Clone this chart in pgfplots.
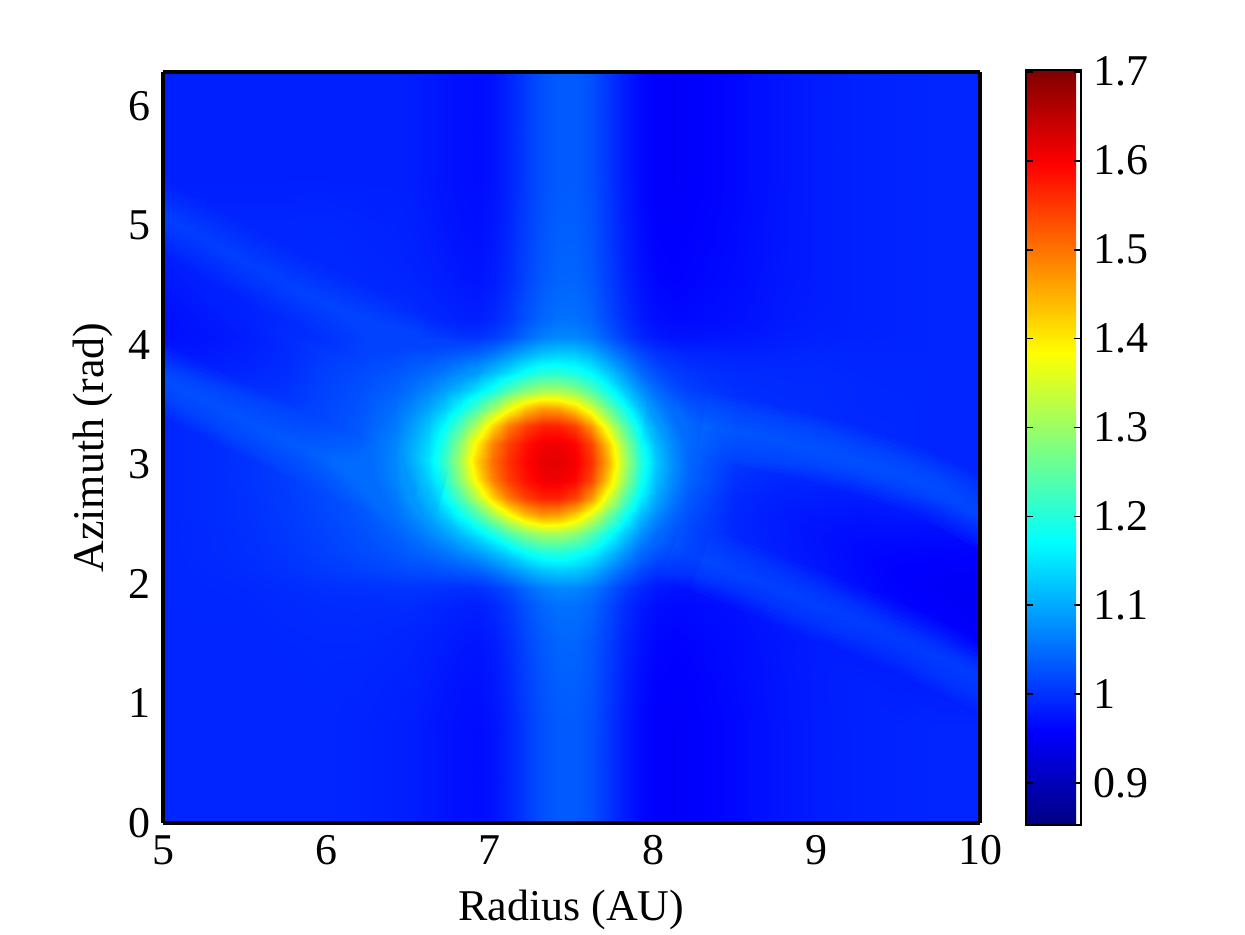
\documentclass[border=0pt]{standalone}
\usepackage{fontspec}
\setmainfont{Liberation Serif}
\usepackage{pgfplots}
\pgfplotsset{compat=1.18}
\definecolor{wakeblue}{RGB}{0,150,255}
\newcommand{\lblfont}{\fontsize{12.5}{15}\selectfont}
% one wake pass = stacked translucent strokes (soft profile)
\newcommand{\wakeline}[2]{%
  \pgfplotsinvokeforeach{0.08,0.16,0.24,0.32,0.40,0.48,0.56,0.64}{%
    \addplot3[no marks, smooth, draw=wakeblue, line width=##1cm, draw opacity=#2, line cap=butt] coordinates {#1};
  }%
}

\begin{document}
\begin{tikzpicture}
\path[use as bounding box] (-1.63,-1.11) rectangle (10.82,8.23);
\begin{axis}[
  at={(0,0)}, anchor=south west,
  scale only axis, width=8.17cm, height=7.51cm,
  view={0}{90},
  xmin=5, xmax=10, ymin=0, ymax=6.2832,
  enlargelimits=false,
  xtick={5,6,7,8,9,10}, ytick={0,1,2,3,4,5,6}, ztick=\empty,
  major tick length=0pt,
  axis line style={line width=1.1pt, line join=miter},
  axis on top,
  colormap/jet,
  point meta min=0.853, point meta max=1.702,
  colorbar,
  colorbar style={
    at={(parent axis.north east)}, anchor=north west,
    xshift=0.16cm, yshift=0.02cm,
    scale only axis, width=0.55cm, height=7.55cm,
    ytick={0.9,1,1.1,1.2,1.3,1.4,1.5,1.6,1.7},
    ytick pos=both, yticklabel pos=right,
    tick align=inside, major tick length=0.07cm,
    tick style={black, line width=0.5pt},
    axis line style={line width=0.6pt},
    yticklabel style={font=\lblfont, /pgf/number format/assume math mode=true},
  },
  xlabel={Radius (AU)}, ylabel={Azimuth (rad)},
  tick label style={font=\lblfont, /pgf/number format/assume math mode=true},
  label style={font=\lblfont},
  xlabel style={at={(axis description cs:0.5,-0.0732)}, anchor=north},
  ylabel style={at={(axis description cs:-0.0465,0.5)}, anchor=south},
]
\addplot3[surf, shader=interp, mesh/rows=27, mesh/cols=32] coordinates {
(5,0,0.990) (5.25,0,0.990) (5.5,0,0.990) (5.75,0,0.990) (6,0,0.990) (6.2,0,0.988) (6.42,0,0.985) (6.52,0,0.983) (6.62,0,0.979) (6.72,0,0.975) (6.82,0,0.971) (6.92,0,0.969) (7.02,0,0.974) (7.12,0,0.988) (7.22,0,1.008) (7.32,0,1.025) (7.42,0,1.034) (7.52,0,1.035) (7.62,0,1.025) (7.72,0,1.005) (7.82,0,0.983) (7.92,0,0.966) (8.02,0,0.957) (8.12,0,0.955) (8.22,0,0.957) (8.5,0,0.965) (8.75,0,0.975) (9,0,0.982) (9.25,0,0.986) (9.5,0,0.988) (9.75,0,0.990) (10,0,0.990)
(5,0.4,0.990) (5.25,0.4,0.990) (5.5,0.4,0.990) (5.75,0.4,0.990) (6,0.4,0.990) (6.2,0.4,0.988) (6.42,0.4,0.985) (6.52,0.4,0.983) (6.62,0.4,0.979) (6.72,0.4,0.975) (6.82,0.4,0.971) (6.92,0.4,0.969) (7.02,0.4,0.974) (7.12,0.4,0.988) (7.22,0.4,1.008) (7.32,0.4,1.025) (7.42,0.4,1.034) (7.52,0.4,1.035) (7.62,0.4,1.025) (7.72,0.4,1.005) (7.82,0.4,0.983) (7.92,0.4,0.966) (8.02,0.4,0.957) (8.12,0.4,0.955) (8.22,0.4,0.957) (8.5,0.4,0.965) (8.75,0.4,0.975) (9,0.4,0.982) (9.25,0.4,0.986) (9.5,0.4,0.988) (9.75,0.4,0.990) (10,0.4,0.990)
(5,0.8,0.990) (5.25,0.8,0.990) (5.5,0.8,0.990) (5.75,0.8,0.990) (6,0.8,0.990) (6.2,0.8,0.988) (6.42,0.8,0.985) (6.52,0.8,0.983) (6.62,0.8,0.979) (6.72,0.8,0.975) (6.82,0.8,0.971) (6.92,0.8,0.969) (7.02,0.8,0.974) (7.12,0.8,0.988) (7.22,0.8,1.008) (7.32,0.8,1.025) (7.42,0.8,1.034) (7.52,0.8,1.035) (7.62,0.8,1.025) (7.72,0.8,1.005) (7.82,0.8,0.983) (7.92,0.8,0.966) (8.02,0.8,0.957) (8.12,0.8,0.955) (8.22,0.8,0.957) (8.5,0.8,0.965) (8.75,0.8,0.975) (9,0.8,0.982) (9.25,0.8,0.986) (9.5,0.8,0.988) (9.75,0.8,0.990) (10,0.8,0.990)
(5,1.2,0.990) (5.25,1.2,0.990) (5.5,1.2,0.990) (5.75,1.2,0.990) (6,1.2,0.991) (6.2,1.2,0.990) (6.42,1.2,0.987) (6.52,1.2,0.986) (6.62,1.2,0.982) (6.72,1.2,0.978) (6.82,1.2,0.974) (6.92,1.2,0.973) (7.02,1.2,0.978) (7.12,1.2,0.992) (7.22,1.2,1.012) (7.32,1.2,1.029) (7.42,1.2,1.038) (7.52,1.2,1.039) (7.62,1.2,1.029) (7.72,1.2,1.009) (7.82,1.2,0.986) (7.92,1.2,0.969) (8.02,1.2,0.960) (8.12,1.2,0.958) (8.22,1.2,0.959) (8.5,1.2,0.967) (8.75,1.2,0.976) (9,1.2,0.983) (9.25,1.2,0.986) (9.5,1.2,0.984) (9.75,1.2,0.982) (10,1.2,0.975)
(5,1.5,0.990) (5.25,1.5,0.990) (5.5,1.5,0.990) (5.75,1.5,0.991) (6,1.5,0.992) (6.2,1.5,0.992) (6.42,1.5,0.990) (6.52,1.5,0.988) (6.62,1.5,0.985) (6.72,1.5,0.982) (6.82,1.5,0.978) (6.92,1.5,0.976) (7.02,1.5,0.981) (7.12,1.5,0.996) (7.22,1.5,1.016) (7.32,1.5,1.033) (7.42,1.5,1.042) (7.52,1.5,1.043) (7.62,1.5,1.032) (7.72,1.5,1.012) (7.82,1.5,0.990) (7.92,1.5,0.973) (8.02,1.5,0.963) (8.12,1.5,0.960) (8.22,1.5,0.962) (8.5,1.5,0.968) (8.75,1.5,0.977) (9,1.5,0.982) (9.25,1.5,0.980) (9.5,1.5,0.973) (9.75,1.5,0.968) (10,1.5,0.957)
(5,1.82,0.990) (5.25,1.82,0.991) (5.5,1.82,0.991) (5.75,1.82,0.993) (6,1.82,0.995) (6.2,1.82,0.996) (6.42,1.82,0.995) (6.52,1.82,0.995) (6.62,1.82,0.992) (6.72,1.82,0.989) (6.82,1.82,0.986) (6.92,1.82,0.985) (7.02,1.82,0.992) (7.12,1.82,1.006) (7.22,1.82,1.027) (7.32,1.82,1.044) (7.42,1.82,1.053) (7.52,1.82,1.053) (7.62,1.82,1.043) (7.72,1.82,1.021) (7.82,1.82,0.998) (7.92,1.82,0.980) (8.02,1.82,0.970) (8.12,1.82,0.967) (8.22,1.82,0.967) (8.5,1.82,0.972) (8.75,1.82,0.979) (9,1.82,0.980) (9.25,1.82,0.974) (9.5,1.82,0.963) (9.75,1.82,0.957) (10,1.82,0.950)
(5,1.97,0.990) (5.25,1.97,0.991) (5.5,1.97,0.992) (5.75,1.97,0.995) (6,1.97,0.999) (6.2,1.97,1.000) (6.42,1.97,1.002) (6.52,1.97,1.002) (6.62,1.97,1.001) (6.72,1.97,1.000) (6.82,1.97,0.998) (6.92,1.97,1.000) (7.02,1.97,1.008) (7.12,1.97,1.024) (7.22,1.97,1.046) (7.32,1.97,1.064) (7.42,1.97,1.072) (7.52,1.97,1.071) (7.62,1.97,1.059) (7.72,1.97,1.036) (7.82,1.97,1.010) (7.92,1.97,0.991) (8.02,1.97,0.979) (8.12,1.97,0.974) (8.22,1.97,0.974) (8.5,1.97,0.977) (8.75,1.97,0.982) (9,1.97,0.979) (9.25,1.97,0.970) (9.5,1.97,0.960) (9.75,1.97,0.955) (10,1.97,0.950)
(5,2.12,0.990) (5.25,2.12,0.992) (5.5,2.12,0.995) (5.75,2.12,1.000) (6,2.12,1.007) (6.2,2.12,1.012) (6.42,2.12,1.018) (6.52,2.12,1.023) (6.62,2.12,1.024) (6.72,2.12,1.029) (6.82,2.12,1.034) (6.92,2.12,1.041) (7.02,2.12,1.058) (7.12,2.12,1.080) (7.22,2.12,1.104) (7.32,2.12,1.123) (7.42,2.12,1.130) (7.52,2.12,1.127) (7.62,2.12,1.109) (7.72,2.12,1.077) (7.82,2.12,1.046) (7.92,2.12,1.020) (8.02,2.12,1.002) (8.12,2.12,0.995) (8.22,2.12,0.990) (8.5,2.12,0.987) (8.75,2.12,0.984) (9,2.12,0.978) (9.25,2.12,0.967) (9.5,2.12,0.958) (9.75,2.12,0.957) (10,2.12,0.955)
(5,2.27,0.990) (5.25,2.27,0.993) (5.5,2.27,0.997) (5.75,2.27,1.003) (6,2.27,1.012) (6.2,2.27,1.020) (6.42,2.27,1.030) (6.52,2.27,1.037) (6.62,2.27,1.046) (6.72,2.27,1.057) (6.82,2.27,1.073) (6.92,2.27,1.091) (7.02,2.27,1.115) (7.12,2.27,1.143) (7.22,2.27,1.177) (7.32,2.27,1.199) (7.42,2.27,1.203) (7.52,2.27,1.190) (7.62,2.27,1.166) (7.72,2.27,1.127) (7.82,2.27,1.085) (7.92,2.27,1.048) (8.02,2.27,1.024) (8.12,2.27,1.009) (8.22,2.27,1.002) (8.5,2.27,0.990) (8.75,2.27,0.984) (9,2.27,0.975) (9.25,2.27,0.966) (9.5,2.27,0.963) (9.75,2.27,0.962) (10,2.27,0.960)
(5,2.42,0.990) (5.25,2.42,0.993) (5.5,2.42,0.998) (5.75,2.42,1.005) (6,2.42,1.015) (6.2,2.42,1.024) (6.42,2.42,1.039) (6.52,2.42,1.052) (6.62,2.42,1.069) (6.72,2.42,1.090) (6.82,2.42,1.116) (6.92,2.42,1.149) (7.02,2.42,1.187) (7.12,2.42,1.237) (7.22,2.42,1.279) (7.32,2.42,1.304) (7.42,2.42,1.305) (7.52,2.42,1.284) (7.62,2.42,1.238) (7.72,2.42,1.185) (7.82,2.42,1.128) (7.92,2.42,1.081) (8.02,2.42,1.047) (8.12,2.42,1.024) (8.22,2.42,1.011) (8.5,2.42,0.991) (8.75,2.42,0.982) (9,2.42,0.974) (9.25,2.42,0.969) (9.5,2.42,0.969) (9.75,2.42,0.968) (10,2.42,0.968)
(5,2.57,0.990) (5.25,2.57,0.994) (5.5,2.57,0.999) (5.75,2.57,1.007) (6,2.57,1.018) (6.2,2.57,1.028) (6.42,2.57,1.051) (6.52,2.57,1.070) (6.62,2.57,1.095) (6.72,2.57,1.126) (6.82,2.57,1.172) (6.92,2.57,1.229) (7.02,2.57,1.298) (7.12,2.57,1.370) (7.22,2.57,1.431) (7.32,2.57,1.463) (7.42,2.57,1.457) (7.52,2.57,1.417) (7.62,2.57,1.349) (7.72,2.57,1.265) (7.82,2.57,1.184) (7.92,2.57,1.117) (8.02,2.57,1.073) (8.12,2.57,1.042) (8.22,2.57,1.023) (8.5,2.57,0.991) (8.75,2.57,0.982) (9,2.57,0.977) (9.25,2.57,0.975) (9.5,2.57,0.977) (9.75,2.57,0.975) (10,2.57,0.975)
(5,2.72,0.990) (5.25,2.72,0.994) (5.5,2.72,0.999) (5.75,2.72,1.008) (6,2.72,1.020) (6.2,2.72,1.032) (6.42,2.72,1.059) (6.52,2.72,1.087) (6.62,2.72,1.121) (6.72,2.72,1.169) (6.82,2.72,1.235) (6.92,2.72,1.323) (7.02,2.72,1.420) (7.12,2.72,1.495) (7.22,2.72,1.543) (7.32,2.72,1.568) (7.42,2.72,1.569) (7.52,2.72,1.542) (7.62,2.72,1.471) (7.72,2.72,1.359) (7.82,2.72,1.247) (7.92,2.72,1.160) (8.02,2.72,1.099) (8.12,2.72,1.059) (8.22,2.72,1.031) (8.5,2.72,0.993) (8.75,2.72,0.985) (9,2.72,0.983) (9.25,2.72,0.981) (9.5,2.72,0.984) (9.75,2.72,0.983) (10,2.72,0.983)
(5,2.87,0.990) (5.25,2.87,0.994) (5.5,2.87,1.000) (5.75,2.87,1.009) (6,2.87,1.021) (6.2,2.87,1.034) (6.42,2.87,1.069) (6.52,2.87,1.100) (6.62,2.87,1.138) (6.72,2.87,1.200) (6.82,2.87,1.287) (6.92,2.87,1.397) (7.02,2.87,1.489) (7.12,2.87,1.546) (7.22,2.87,1.583) (7.32,2.87,1.606) (7.42,2.87,1.609) (7.52,2.87,1.593) (7.62,2.87,1.540) (7.72,2.87,1.433) (7.82,2.87,1.299) (7.92,2.87,1.191) (8.02,2.87,1.116) (8.12,2.87,1.072) (8.22,2.87,1.041) (8.5,2.87,0.999) (8.75,2.87,0.990) (9,2.87,0.989) (9.25,2.87,0.987) (9.5,2.87,0.988) (9.75,2.87,0.990) (10,2.87,0.990)
(5,3.02,0.990) (5.25,3.02,0.994) (5.5,3.02,1.000) (5.75,3.02,1.009) (6,3.02,1.022) (6.2,3.02,1.035) (6.42,3.02,1.072) (6.52,3.02,1.105) (6.62,3.02,1.148) (6.72,3.02,1.214) (6.82,3.02,1.309) (6.92,3.02,1.424) (7.02,3.02,1.506) (7.12,3.02,1.557) (7.22,3.02,1.593) (7.32,3.02,1.615) (7.42,3.02,1.619) (7.52,3.02,1.604) (7.62,3.02,1.557) (7.72,3.02,1.460) (7.82,3.02,1.321) (7.92,3.02,1.205) (8.02,3.02,1.126) (8.12,3.02,1.077) (8.22,3.02,1.044) (8.5,3.02,1.006) (8.75,3.02,1.000) (9,3.02,0.996) (9.25,3.02,0.993) (9.5,3.02,0.992) (9.75,3.02,0.990) (10,3.02,0.990)
(5,3.17,0.990) (5.25,3.17,0.994) (5.5,3.17,1.000) (5.75,3.17,1.009) (6,3.17,1.021) (6.2,3.17,1.034) (6.42,3.17,1.069) (6.52,3.17,1.100) (6.62,3.17,1.138) (6.72,3.17,1.200) (6.82,3.17,1.287) (6.92,3.17,1.397) (7.02,3.17,1.489) (7.12,3.17,1.546) (7.22,3.17,1.583) (7.32,3.17,1.606) (7.42,3.17,1.609) (7.52,3.17,1.593) (7.62,3.17,1.540) (7.72,3.17,1.433) (7.82,3.17,1.299) (7.92,3.17,1.191) (8.02,3.17,1.116) (8.12,3.17,1.072) (8.22,3.17,1.041) (8.5,3.17,1.006) (8.75,3.17,0.999) (9,3.17,0.996) (9.25,3.17,0.993) (9.5,3.17,0.992) (9.75,3.17,0.990) (10,3.17,0.990)
(5,3.32,0.990) (5.25,3.32,0.994) (5.5,3.32,0.999) (5.75,3.32,1.008) (6,3.32,1.020) (6.2,3.32,1.032) (6.42,3.32,1.059) (6.52,3.32,1.087) (6.62,3.32,1.121) (6.72,3.32,1.169) (6.82,3.32,1.235) (6.92,3.32,1.323) (7.02,3.32,1.420) (7.12,3.32,1.495) (7.22,3.32,1.543) (7.32,3.32,1.568) (7.42,3.32,1.569) (7.52,3.32,1.542) (7.62,3.32,1.471) (7.72,3.32,1.359) (7.82,3.32,1.247) (7.92,3.32,1.160) (8.02,3.32,1.099) (8.12,3.32,1.059) (8.22,3.32,1.031) (8.5,3.32,1.003) (8.75,3.32,0.998) (9,3.32,0.996) (9.25,3.32,0.993) (9.5,3.32,0.992) (9.75,3.32,0.990) (10,3.32,0.990)
(5,3.47,0.990) (5.25,3.47,0.994) (5.5,3.47,0.999) (5.75,3.47,1.007) (6,3.47,1.018) (6.2,3.47,1.028) (6.42,3.47,1.051) (6.52,3.47,1.070) (6.62,3.47,1.095) (6.72,3.47,1.126) (6.82,3.47,1.172) (6.92,3.47,1.229) (7.02,3.47,1.298) (7.12,3.47,1.370) (7.22,3.47,1.431) (7.32,3.47,1.463) (7.42,3.47,1.457) (7.52,3.47,1.417) (7.62,3.47,1.349) (7.72,3.47,1.265) (7.82,3.47,1.184) (7.92,3.47,1.117) (8.02,3.47,1.073) (8.12,3.47,1.042) (8.22,3.47,1.023) (8.5,3.47,1.001) (8.75,3.47,0.997) (9,3.47,0.995) (9.25,3.47,0.992) (9.5,3.47,0.992) (9.75,3.47,0.990) (10,3.47,0.990)
(5,3.62,0.990) (5.25,3.62,0.993) (5.5,3.62,0.998) (5.75,3.62,1.001) (6,3.62,1.015) (6.2,3.62,1.024) (6.42,3.62,1.039) (6.52,3.62,1.052) (6.62,3.62,1.069) (6.72,3.62,1.090) (6.82,3.62,1.116) (6.92,3.62,1.149) (7.02,3.62,1.187) (7.12,3.62,1.237) (7.22,3.62,1.279) (7.32,3.62,1.304) (7.42,3.62,1.305) (7.52,3.62,1.284) (7.62,3.62,1.238) (7.72,3.62,1.185) (7.82,3.62,1.128) (7.92,3.62,1.081) (8.02,3.62,1.047) (8.12,3.62,1.024) (8.22,3.62,1.011) (8.5,3.62,0.998) (8.75,3.62,0.995) (9,3.62,0.994) (9.25,3.62,0.992) (9.5,3.62,0.991) (9.75,3.62,0.990) (10,3.62,0.990)
(5,3.77,0.985) (5.25,3.77,0.986) (5.5,3.77,0.990) (5.75,3.77,0.997) (6,3.77,1.012) (6.2,3.77,1.020) (6.42,3.77,1.030) (6.52,3.77,1.037) (6.62,3.77,1.046) (6.72,3.77,1.057) (6.82,3.77,1.073) (6.92,3.77,1.091) (7.02,3.77,1.115) (7.12,3.77,1.143) (7.22,3.77,1.177) (7.32,3.77,1.199) (7.42,3.77,1.203) (7.52,3.77,1.190) (7.62,3.77,1.166) (7.72,3.77,1.127) (7.82,3.77,1.085) (7.92,3.77,1.048) (8.02,3.77,1.024) (8.12,3.77,1.009) (8.22,3.77,1.002) (8.5,3.77,0.994) (8.75,3.77,0.993) (9,3.77,0.993) (9.25,3.77,0.991) (9.5,3.77,0.991) (9.75,3.77,0.990) (10,3.77,0.990)
(5,3.92,0.978) (5.25,3.92,0.980) (5.5,3.92,0.986) (5.75,3.92,0.994) (6,3.92,1.007) (6.2,3.92,1.012) (6.42,3.92,1.018) (6.52,3.92,1.023) (6.62,3.92,1.024) (6.72,3.92,1.029) (6.82,3.92,1.034) (6.92,3.92,1.041) (7.02,3.92,1.058) (7.12,3.92,1.080) (7.22,3.92,1.104) (7.32,3.92,1.123) (7.42,3.92,1.130) (7.52,3.92,1.127) (7.62,3.92,1.109) (7.72,3.92,1.077) (7.82,3.92,1.046) (7.92,3.92,1.020) (8.02,3.92,1.002) (8.12,3.92,0.995) (8.22,3.92,0.990) (8.5,3.92,0.987) (8.75,3.92,0.988) (9,3.92,0.991) (9.25,3.92,0.990) (9.5,3.92,0.990) (9.75,3.92,0.990) (10,3.92,0.990)
(5,4.07,0.972) (5.25,4.07,0.976) (5.5,4.07,0.982) (5.75,4.07,0.995) (6,4.07,0.999) (6.2,4.07,1.000) (6.42,4.07,1.002) (6.52,4.07,1.002) (6.62,4.07,1.001) (6.72,4.07,1.000) (6.82,4.07,0.998) (6.92,4.07,1.000) (7.02,4.07,1.008) (7.12,4.07,1.024) (7.22,4.07,1.046) (7.32,4.07,1.064) (7.42,4.07,1.072) (7.52,4.07,1.071) (7.62,4.07,1.059) (7.72,4.07,1.036) (7.82,4.07,1.010) (7.92,4.07,0.991) (8.02,4.07,0.979) (8.12,4.07,0.974) (8.22,4.07,0.974) (8.5,4.07,0.977) (8.75,4.07,0.982) (9,4.07,0.986) (9.25,4.07,0.987) (9.5,4.07,0.988) (9.75,4.07,0.990) (10,4.07,0.990)
(5,4.22,0.970) (5.25,4.22,0.979) (5.5,4.22,0.985) (5.75,4.22,0.993) (6,4.22,0.995) (6.2,4.22,0.996) (6.42,4.22,0.995) (6.52,4.22,0.995) (6.62,4.22,0.992) (6.72,4.22,0.989) (6.82,4.22,0.986) (6.92,4.22,0.985) (7.02,4.22,0.992) (7.12,4.22,1.006) (7.22,4.22,1.027) (7.32,4.22,1.044) (7.42,4.22,1.053) (7.52,4.22,1.053) (7.62,4.22,1.043) (7.72,4.22,1.021) (7.82,4.22,0.998) (7.92,4.22,0.980) (8.02,4.22,0.970) (8.12,4.22,0.967) (8.22,4.22,0.967) (8.5,4.22,0.972) (8.75,4.22,0.979) (9,4.22,0.984) (9.25,4.22,0.986) (9.5,4.22,0.988) (9.75,4.22,0.990) (10,4.22,0.990)
(5,4.55,0.978) (5.25,4.55,0.985) (5.5,4.55,0.990) (5.75,4.55,0.991) (6,4.55,0.992) (6.2,4.55,0.992) (6.42,4.55,0.990) (6.52,4.55,0.988) (6.62,4.55,0.985) (6.72,4.55,0.982) (6.82,4.55,0.978) (6.92,4.55,0.976) (7.02,4.55,0.981) (7.12,4.55,0.996) (7.22,4.55,1.016) (7.32,4.55,1.033) (7.42,4.55,1.042) (7.52,4.55,1.043) (7.62,4.55,1.032) (7.72,4.55,1.012) (7.82,4.55,0.990) (7.92,4.55,0.973) (8.02,4.55,0.963) (8.12,4.55,0.960) (8.22,4.55,0.962) (8.5,4.55,0.968) (8.75,4.55,0.977) (9,4.55,0.982) (9.25,4.55,0.986) (9.5,4.55,0.988) (9.75,4.55,0.990) (10,4.55,0.990)
(5,5.0,0.990) (5.25,5.0,0.990) (5.5,5.0,0.990) (5.75,5.0,0.990) (6,5.0,0.991) (6.2,5.0,0.989) (6.42,5.0,0.987) (6.52,5.0,0.985) (6.62,5.0,0.981) (6.72,5.0,0.977) (6.82,5.0,0.973) (6.92,5.0,0.971) (7.02,5.0,0.977) (7.12,5.0,0.991) (7.22,5.0,1.011) (7.32,5.0,1.028) (7.42,5.0,1.037) (7.52,5.0,1.038) (7.62,5.0,1.028) (7.72,5.0,1.008) (7.82,5.0,0.985) (7.92,5.0,0.968) (8.02,5.0,0.959) (8.12,5.0,0.957) (8.22,5.0,0.959) (8.5,5.0,0.966) (8.75,5.0,0.976) (9,5.0,0.982) (9.25,5.0,0.986) (9.5,5.0,0.988) (9.75,5.0,0.990) (10,5.0,0.990)
(5,5.4,0.985) (5.25,5.4,0.985) (5.5,5.4,0.985) (5.75,5.4,0.985) (6,5.4,0.985) (6.2,5.4,0.985) (6.42,5.4,0.985) (6.52,5.4,0.983) (6.62,5.4,0.979) (6.72,5.4,0.975) (6.82,5.4,0.971) (6.92,5.4,0.969) (7.02,5.4,0.974) (7.12,5.4,0.988) (7.22,5.4,1.008) (7.32,5.4,1.025) (7.42,5.4,1.034) (7.52,5.4,1.035) (7.62,5.4,1.025) (7.72,5.4,1.005) (7.82,5.4,0.983) (7.92,5.4,0.966) (8.02,5.4,0.957) (8.12,5.4,0.955) (8.22,5.4,0.957) (8.5,5.4,0.965) (8.75,5.4,0.975) (9,5.4,0.982) (9.25,5.4,0.986) (9.5,5.4,0.988) (9.75,5.4,0.990) (10,5.4,0.990)
(5,5.8,0.985) (5.25,5.8,0.985) (5.5,5.8,0.985) (5.75,5.8,0.985) (6,5.8,0.985) (6.2,5.8,0.985) (6.42,5.8,0.985) (6.52,5.8,0.983) (6.62,5.8,0.979) (6.72,5.8,0.975) (6.82,5.8,0.971) (6.92,5.8,0.969) (7.02,5.8,0.974) (7.12,5.8,0.988) (7.22,5.8,1.008) (7.32,5.8,1.025) (7.42,5.8,1.034) (7.52,5.8,1.035) (7.62,5.8,1.025) (7.72,5.8,1.005) (7.82,5.8,0.983) (7.92,5.8,0.966) (8.02,5.8,0.957) (8.12,5.8,0.955) (8.22,5.8,0.957) (8.5,5.8,0.965) (8.75,5.8,0.975) (9,5.8,0.982) (9.25,5.8,0.986) (9.5,5.8,0.988) (9.75,5.8,0.990) (10,5.8,0.990)
(5,6.2832,0.985) (5.25,6.2832,0.985) (5.5,6.2832,0.985) (5.75,6.2832,0.985) (6,6.2832,0.985) (6.2,6.2832,0.985) (6.42,6.2832,0.985) (6.52,6.2832,0.983) (6.62,6.2832,0.979) (6.72,6.2832,0.975) (6.82,6.2832,0.971) (6.92,6.2832,0.969) (7.02,6.2832,0.974) (7.12,6.2832,0.988) (7.22,6.2832,1.008) (7.32,6.2832,1.025) (7.42,6.2832,1.034) (7.52,6.2832,1.035) (7.62,6.2832,1.025) (7.72,6.2832,1.005) (7.82,6.2832,0.983) (7.92,6.2832,0.966) (8.02,6.2832,0.957) (8.12,6.2832,0.955) (8.22,6.2832,0.957) (8.5,6.2832,0.965) (8.75,6.2832,0.975) (9,6.2832,0.982) (9.25,6.2832,0.986) (9.5,6.2832,0.988) (9.75,6.2832,0.990) (10,6.2832,0.990)
};
% upper-left wake (three passes, shorter ones fade the inner end)
\wakeline{(4.9,5.14,2) (5.0,5.07,2) (5.59,4.63,2) (6.21,4.21,2) (6.55,4.0,2) (6.75,3.89,2) (6.95,3.78,2)}{0.012}
\wakeline{(4.9,5.14,2) (5.0,5.07,2) (5.59,4.63,2) (6.21,4.21,2) (6.55,4.0,2) (6.75,3.89,2)}{0.012}
\wakeline{(4.9,5.14,2) (5.0,5.07,2) (5.59,4.63,2) (6.21,4.21,2) (6.55,4.0,2)}{0.012}
% lower-left wake
\wakeline{(4.9,3.78,2) (5.0,3.71,2) (5.59,3.31,2) (6.21,2.92,2) (6.4,2.83,2) (6.55,2.77,2) (6.7,2.71,2)}{0.023}
\wakeline{(4.9,3.78,2) (5.0,3.71,2) (5.59,3.31,2) (6.21,2.92,2) (6.4,2.83,2) (6.55,2.77,2)}{0.023}
\wakeline{(4.9,3.78,2) (5.0,3.71,2) (5.59,3.31,2) (6.21,2.92,2) (6.4,2.83,2)}{0.023}
% upper-right wake
\wakeline{(7.95,3.41,2) (8.12,3.37,2) (8.3,3.33,2) (8.5,3.28,2) (9.02,3.12,2) (9.63,2.85,2) (10,2.59,2) (10.1,2.51,2)}{0.025}
\wakeline{(8.12,3.37,2) (8.3,3.33,2) (8.5,3.28,2) (9.02,3.12,2) (9.63,2.85,2) (10,2.59,2) (10.1,2.51,2)}{0.025}
\wakeline{(8.3,3.33,2) (8.5,3.28,2) (9.02,3.12,2) (9.63,2.85,2) (10,2.59,2) (10.1,2.51,2)}{0.025}
% lower-right wake
\wakeline{(7.95,2.40,2) (8.12,2.30,2) (8.3,2.20,2) (8.82,1.92,2) (9.43,1.59,2) (10,1.22,2) (10.1,1.15,2)}{0.02}
\wakeline{(8.12,2.30,2) (8.3,2.20,2) (8.82,1.92,2) (9.43,1.59,2) (10,1.22,2) (10.1,1.15,2)}{0.02}
\wakeline{(8.3,2.20,2) (8.82,1.92,2) (9.43,1.59,2) (10,1.22,2) (10.1,1.15,2)}{0.02}
\end{axis}
\end{tikzpicture}
\end{document}
